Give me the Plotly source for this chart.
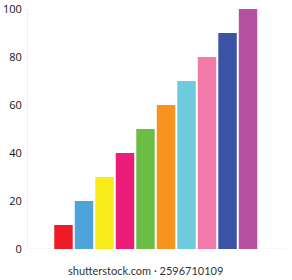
import plotly.graph_objects as go

categories = ["A", "B", "C", "D", "E", "F", "G", "H", "I", "J"]
values = [10, 20, 30, 40, 50, 60, 70, 80, 90, 100]
colors = ["#ED1C24", "#4FA3DB", "#F7EC1A", "#EC1C79", "#6CBD45",
          "#F7941D", "#6DCBDB", "#F37BAA", "#3A53A4", "#B5519F"]
tick_vals = [0, 20, 40, 60, 80, 100]

fig = go.Figure(go.Bar(
    x=list(range(len(categories))), y=values,
    marker=dict(color=colors, line=dict(width=0)),
))
fig.update_layout(
    width=292, height=280,
    margin=dict(l=28, r=5, t=9, b=31),
    paper_bgcolor="white", plot_bgcolor="white",
    bargap=0.1, showlegend=False,
    font=dict(family="Open Sans", size=11, color="#111"),
)
fig.update_xaxes(range=[-1.73, 10.9], showticklabels=False, showgrid=False,
                 zeroline=False, showline=False, ticks="")
fig.update_yaxes(range=[0, 100], tickvals=tick_vals, showgrid=False,
                 zeroline=False, showline=True, linecolor="#f0f0f0", linewidth=1,
                 ticks="outside", ticklen=3, tickcolor="#f0f0f0",
                 ticklabeloverflow="allow", automargin=False)
fig.add_shape(type="line", xref="paper", yref="y", x0=0, x1=1, y0=0, y1=0,
              line=dict(color="#eeeeee", width=1), layer="below")
fig.add_annotation(text="shutterstock.com · 2596710109", xref="paper", yref="paper",
                   x=0.455, y=0, yshift=-21, showarrow=False,
                   font=dict(family="Lato", size=11, color="#333"),
                   xanchor="center", yanchor="middle")
fig.write_html("out.html")
